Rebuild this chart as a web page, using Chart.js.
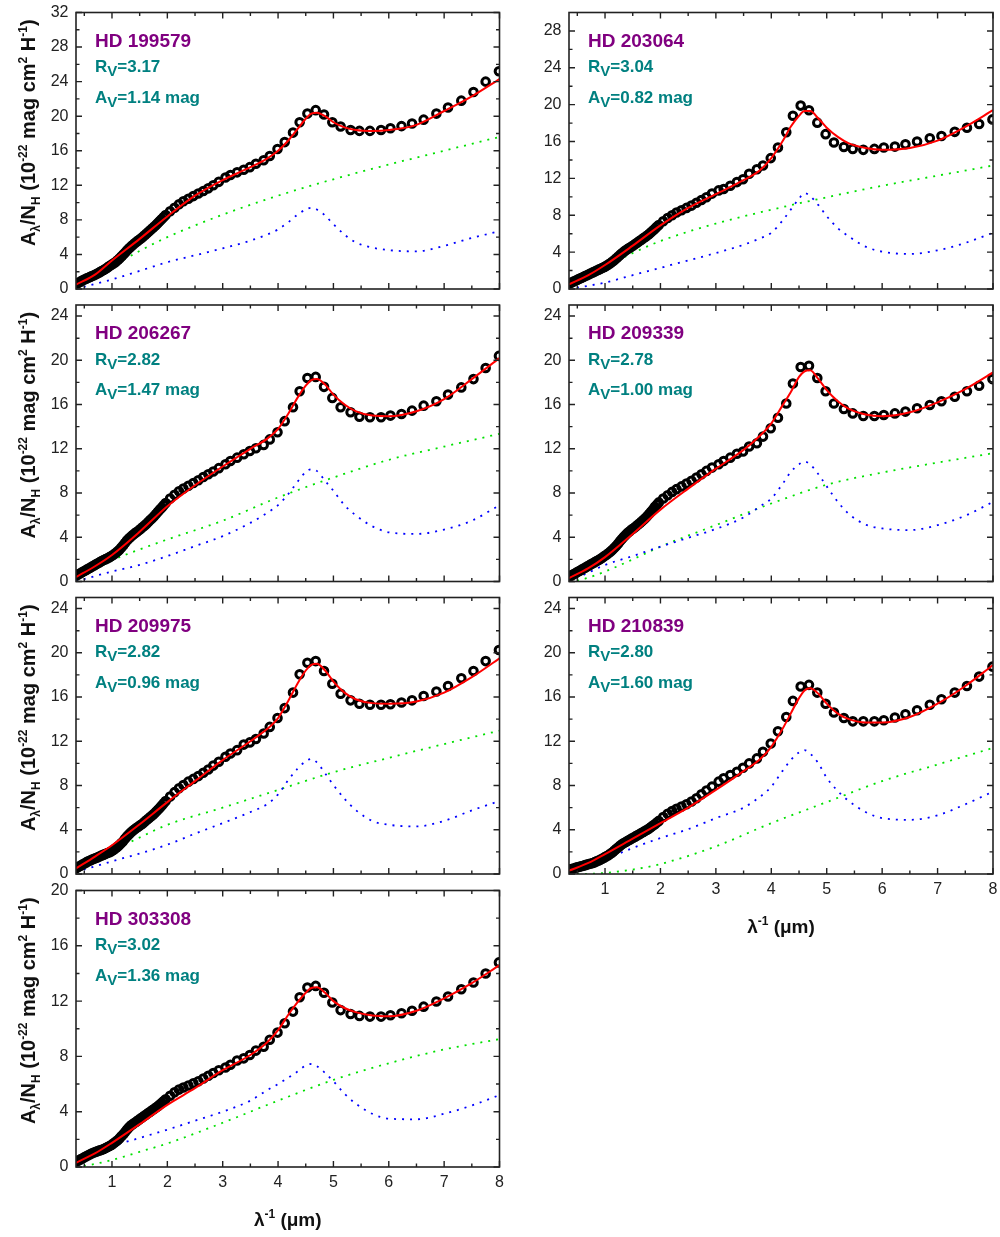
<!DOCTYPE html>
<html>
<head>
<meta charset="utf-8">
<script src="https://cdn.jsdelivr.net/npm/chart.js@4.4.0/dist/chart.umd.min.js"></script>
<style>
  body { margin: 0; background: #fff; }
  #wrap { position: relative; width: 1000px; height: 1237px; }
  #wrap canvas { position: absolute; left: 0; top: 0; }
</style>
</head>
<body>
<div id="wrap"></div>
<script>
// sampling of the observed curves (1/micron)
const obsX = [0.36,0.395,0.43,0.465,0.50,0.535,0.57,0.605,0.64,0.675,0.71,0.745,0.78,0.815,0.85,0.885,0.92,0.955,0.99,1.025,
  1.06,1.095,1.13,1.165,1.20,1.235,1.27,1.305,1.34,1.375,1.41,1.445,1.48,1.515,1.55,1.585,1.62,1.655,1.69,1.725,
  1.76,1.795,1.83,1.865,1.90,1.935,1.97,
  2.05,2.13,2.21,2.29,2.38,2.47,2.56,2.65,2.74,2.83,
  2.93,3.05,3.14,3.26,3.38,3.49,3.60,3.74,3.85,3.99,4.12,4.27,4.39,
  4.53,4.68,4.83,4.98,5.13,5.31,5.47,5.66,5.86,6.03,6.23,6.42,6.63,6.86,7.07,7.31,7.53,7.75,7.99];
// sampling of the model curves
const modelX = [0.35,0.7,1.0,1.5,2.0,2.5,3.0,3.5,3.8,4.0,4.2,4.35,4.5,4.6,4.7,4.85,5.0,5.2,5.4,5.7,6.0,6.5,7.0,7.5,8.0];
const greenX = [0.35,0.6,1.0,1.5,2,3,4,5,6,7,8];

// HD 199579
const obs1 = [0.6,0.72,0.85,0.98,1.1,1.2,1.3,1.4,1.5,1.6,1.7,1.82,1.95,2.07,2.2,2.35,2.5,2.65,2.8,2.95,
  3.1,3.3,3.5,3.72,3.95,4.2,4.45,4.68,4.9,5.1,5.3,5.48,5.65,5.82,6.0,6.2,6.4,6.6,6.8,7.0,
  7.2,7.42,7.65,7.88,8.1,8.32,8.55,
  9.0,9.4,9.8,10.15,10.45,10.75,11.05,11.35,11.65,12.0,
  12.4,12.9,13.2,13.5,13.8,14.1,14.5,14.9,15.4,16.2,17.0,18.1,19.3,
  20.3,20.7,20.2,19.3,18.8,18.4,18.3,18.3,18.4,18.6,18.85,19.15,19.6,20.3,21.0,21.8,22.8,24.0,25.2];
const fit1 = [0.5,1.7,3.3,5.8,8.4,10.8,12.6,14.1,15.1,16.0,17.3,18.5,19.7,20.3,20.4,20.0,19.3,18.7,18.4,18.3,18.4,19.0,20.6,22.3,24.3];
const blue1 = [0.0,0.6,1.1,2.1,3.1,3.9,4.7,5.6,6.3,6.9,7.8,8.6,9.2,9.4,9.2,8.5,7.5,6.3,5.4,4.8,4.5,4.35,5.0,5.9,6.7];
const green1 = [0.0,1.1,2.6,4.4,6.0,8.6,10.8,12.7,14.4,16.0,17.6];

// HD 203064
const obs2 = [0.6,0.7,0.8,0.9,1.0,1.1,1.2,1.3,1.4,1.5,1.6,1.7,1.8,1.9,2.0,2.1,2.2,2.3,2.4,2.52,
  2.65,2.8,2.95,3.12,3.3,3.5,3.7,3.88,4.05,4.2,4.35,4.48,4.6,4.75,4.9,5.05,5.2,5.35,5.5,5.65,
  5.8,5.97,6.15,6.35,6.55,6.75,6.95,
  7.35,7.7,8.0,8.3,8.55,8.8,9.05,9.35,9.65,9.95,
  10.35,10.7,10.85,11.2,11.6,11.9,12.5,13.0,13.4,14.2,15.35,17.0,18.8,
  19.9,19.4,18.05,16.8,15.9,15.4,15.2,15.1,15.2,15.35,15.45,15.7,16.0,16.35,16.6,17.05,17.5,17.9,18.4];
const fit2 = [0.5,1.5,2.6,4.7,6.9,8.8,10.3,11.8,12.9,14.2,16.0,17.6,18.8,19.3,19.3,18.5,17.5,16.5,15.8,15.3,15.1,15.3,16.1,17.6,19.4];
const blue2 = [0.0,0.35,0.7,1.5,2.3,3.1,3.9,4.8,5.5,6.1,7.4,8.6,9.8,10.4,10.1,9.1,7.9,6.6,5.7,4.6,4.05,3.8,4.2,5.0,6.1];
const green2 = [0.0,1.0,2.4,3.9,5.2,7.1,8.6,9.95,11.2,12.3,13.4];

// HD 206267
const obs3 = [0.55,0.65,0.75,0.85,0.95,1.05,1.15,1.25,1.35,1.45,1.55,1.65,1.75,1.85,1.95,2.02,2.1,2.2,2.3,2.42,
  2.55,2.7,2.85,3.05,3.25,3.48,3.7,3.88,4.05,4.2,4.35,4.48,4.6,4.75,4.9,5.05,5.2,5.38,5.55,5.72,
  5.9,6.1,6.3,6.5,6.7,6.9,7.1,
  7.5,7.85,8.15,8.4,8.65,8.9,9.15,9.45,9.7,9.95,
  10.25,10.6,10.9,11.2,11.5,11.8,12.05,12.35,12.85,13.5,14.5,15.75,17.2,
  18.4,18.5,17.6,16.6,15.75,15.3,14.9,14.85,14.85,15.0,15.15,15.45,15.9,16.3,16.9,17.55,18.3,19.3,20.4];
const fit3 = [0.4,1.4,2.4,4.5,6.8,8.7,10.4,12.0,12.9,13.8,15.3,16.6,17.7,18.2,18.3,17.8,16.9,16.0,15.4,15.0,14.95,15.4,16.5,18.3,20.2];
const blue3 = [0.0,0.5,0.9,1.5,2.3,3.2,4.1,5.3,6.2,6.9,8.0,9.0,9.9,10.15,10.0,9.1,8.2,6.9,6.0,5.0,4.45,4.3,4.7,5.5,6.9];
const green3 = [0.1,0.8,1.9,2.9,3.8,5.5,7.6,9.4,11.0,12.2,13.35];

// HD 209339
const obs4 = [0.45,0.55,0.65,0.75,0.85,0.95,1.05,1.15,1.25,1.35,1.45,1.55,1.65,1.75,1.85,1.95,2.05,2.17,2.3,2.42,
  2.55,2.7,2.85,3.02,3.2,3.42,3.65,3.85,4.05,4.22,4.4,4.55,4.7,4.82,4.95,5.1,5.25,5.4,5.55,5.72,
  5.9,6.1,6.3,6.52,6.75,6.95,7.15,
  7.5,7.8,8.1,8.35,8.6,8.85,9.1,9.4,9.7,10.0,
  10.3,10.6,10.9,11.2,11.55,11.75,12.2,12.5,13.1,13.85,14.8,16.1,17.9,
  19.4,19.5,18.4,17.2,16.1,15.6,15.2,14.97,14.97,15.06,15.2,15.36,15.66,15.96,16.3,16.7,17.2,17.7,18.3];
const fit4 = [0.3,1.2,2.2,4.3,6.5,8.4,10.2,11.9,13.2,14.3,15.9,17.1,18.5,19.0,19.1,18.3,17.3,16.3,15.6,15.1,14.95,15.3,16.2,17.4,18.9];
const blue4 = [0.0,0.8,1.5,2.3,3.15,3.95,4.75,5.8,6.8,7.5,8.8,9.9,10.6,10.85,10.6,9.7,8.6,7.2,6.1,5.15,4.8,4.65,5.1,5.95,7.2];
const green4 = [0.0,0.2,0.9,2.0,3.15,5.1,7.05,8.75,9.85,10.75,11.6];

// HD 209975
const obs5 = [0.55,0.65,0.75,0.85,0.95,1.05,1.15,1.22,1.3,1.38,1.45,1.52,1.6,1.68,1.75,1.82,1.9,1.97,2.05,2.17,
  2.3,2.45,2.6,2.77,2.95,3.18,3.4,3.58,3.75,3.9,4.05,4.18,4.3,4.42,4.55,4.7,4.85,5.0,5.15,5.3,
  5.45,5.62,5.8,6.0,6.2,6.4,6.6,
  7.0,7.4,7.75,8.05,8.35,8.6,8.85,9.15,9.45,9.8,
  10.15,10.6,10.9,11.2,11.7,11.9,12.2,12.7,13.3,14.1,15.0,16.4,18.05,
  19.1,19.25,18.35,17.2,16.3,15.7,15.4,15.3,15.3,15.35,15.5,15.7,16.1,16.5,17.0,17.7,18.35,19.25,20.25];
const fit5 = [0.5,1.6,2.6,4.5,6.5,8.4,10.3,12.0,13.1,14.1,15.8,17.2,18.4,18.9,19.0,18.4,17.4,16.4,15.8,15.45,15.4,15.6,16.4,17.8,19.5];
const blue5 = [0.2,0.7,1.15,1.85,2.65,3.65,4.6,5.6,6.3,7.2,8.6,9.5,10.2,10.4,10.1,9.1,8.05,6.8,5.8,4.8,4.45,4.3,4.8,5.75,6.6];
const green5 = [0.1,1.0,2.05,3.3,4.45,6.0,7.6,9.2,10.5,11.75,12.96];

// HD 210839
const obs6 = [0.4,0.45,0.5,0.55,0.6,0.65,0.7,0.75,0.8,0.85,0.9,0.95,1.0,1.07,1.15,1.22,1.3,1.4,1.5,1.6,
  1.7,1.82,1.95,2.1,2.25,2.4,2.55,2.68,2.8,2.9,3.0,3.1,3.2,3.3,3.4,3.5,3.6,3.7,3.8,3.9,
  4.0,4.12,4.25,4.38,4.5,4.65,4.8,
  5.15,5.45,5.7,5.9,6.1,6.3,6.55,6.85,7.2,7.55,
  7.9,8.35,8.65,8.95,9.25,9.6,10.0,10.45,11.05,11.8,12.9,14.2,15.65,
  16.95,17.1,16.4,15.4,14.6,14.1,13.8,13.8,13.8,13.9,14.15,14.45,14.8,15.3,15.8,16.4,17.0,17.85,18.75];
const fit6 = [0.3,1.0,1.8,3.2,4.6,6.0,7.6,9.3,10.4,11.5,13.1,14.5,15.9,16.6,16.8,16.3,15.4,14.5,14.0,13.7,13.7,14.2,15.4,17.0,18.9];
const blue6 = [0.0,0.6,1.3,2.35,3.25,4.05,5.05,6.0,7.0,7.9,9.3,10.3,11.0,11.2,10.9,10.0,8.7,7.5,6.6,5.6,5.05,4.9,5.3,6.3,7.45];
const green6 = [0.0,0.0,0.1,0.4,0.9,2.5,4.6,6.5,8.4,9.9,11.4];

// HD 303308
const obs7 = [0.4,0.47,0.55,0.62,0.7,0.77,0.85,0.92,1.0,1.05,1.1,1.15,1.2,1.25,1.3,1.37,1.45,1.52,1.6,1.7,
  1.8,1.92,2.05,2.2,2.35,2.52,2.7,2.85,3.0,3.1,3.2,3.3,3.4,3.5,3.6,3.7,3.8,3.9,4.0,4.1,
  4.2,4.3,4.4,4.52,4.65,4.77,4.9,
  5.15,5.4,5.6,5.75,5.9,6.05,6.2,6.4,6.6,6.8,
  7.0,7.2,7.4,7.7,7.86,8.1,8.42,8.7,9.2,9.72,10.4,11.24,12.28,
  12.98,13.1,12.6,11.9,11.35,11.07,10.93,10.88,10.88,10.98,11.12,11.3,11.6,11.97,12.33,12.86,13.34,14.0,14.8];
const fit7 = [0.3,1.0,1.75,3.1,4.5,5.7,7.0,8.1,9.0,9.9,11.1,11.9,12.6,12.95,13.0,12.6,12.0,11.5,11.2,10.95,10.9,11.3,12.2,13.3,14.6];
const blue7 = [0.15,1.0,1.5,2.1,2.7,3.35,4.0,4.8,5.55,6.0,6.5,6.9,7.35,7.45,7.3,6.8,6.2,5.3,4.6,3.85,3.5,3.45,3.85,4.45,5.2];
const green7 = [0.0,0.15,0.5,1.1,1.7,3.2,4.8,6.3,7.5,8.5,9.25];

const starNames = ['HD 199579','HD 203064','HD 206267','HD 209339','HD 209975','HD 210839','HD 303308'];
const rvValues = ['3.17','3.04','2.82','2.78','2.82','2.80','3.02'];
const avValues = ['1.14','0.82','1.47','1.00','0.96','1.60','1.36'];

const xTicks = [1,2,3,4,5,6,7,8];
const xMinorTicks = [0.5,1.5,2.5,3.5,4.5,5.5,6.5,7.5];
const yTicks32 = [0,4,8,12,16,20,24,28,32];
const yTicks28 = [0,4,8,12,16,20,24,28];
const yTicks24 = [0,4,8,12,16,20,24];
const yTicks20 = [0,4,8,12,16,20];

// panel grid
const W = 1000, H = 1237;
const colLeft = [76, 569], colRight = [499.5, 993];
const rowTop = [12.5, 305, 597.5, 890.5];
const plotH = 276.5;
const FONT = 'Arial, "Liberation Sans", sans-serif';
const PURPLE = '#800080', TEAL = '#008080';

const panels = [
  { obs: obs1, fit: fit1, blue: blue1, green: green1, col: 0, row: 0, yMax: 32, yTicks: yTicks32 },
  { obs: obs2, fit: fit2, blue: blue2, green: green2, col: 1, row: 0, yMax: 30, yTicks: yTicks28 },
  { obs: obs3, fit: fit3, blue: blue3, green: green3, col: 0, row: 1, yMax: 25, yTicks: yTicks24 },
  { obs: obs4, fit: fit4, blue: blue4, green: green4, col: 1, row: 1, yMax: 25, yTicks: yTicks24 },
  { obs: obs5, fit: fit5, blue: blue5, green: green5, col: 0, row: 2, yMax: 25, yTicks: yTicks24 },
  { obs: obs6, fit: fit6, blue: blue6, green: green6, col: 1, row: 2, yMax: 25, yTicks: yTicks24, bottom: true },
  { obs: obs7, fit: fit7, blue: blue7, green: green7, col: 0, row: 3, yMax: 20, yTicks: yTicks20, bottom: true }
];

const pts = (xs, ys) => xs.map((x, i) => ({ x: x, y: ys[i] }));

// text with sub/superscripts: parts = [text, size, dy]
function rich(ctx, parts, x, y, align, color) {
  ctx.fillStyle = color;
  ctx.textAlign = 'left';
  ctx.textBaseline = 'alphabetic';
  let w = 0;
  parts.forEach(p => { ctx.font = 'bold ' + p[1] + 'px ' + FONT; w += ctx.measureText(p[0]).width; });
  let cx = align === 'center' ? x - w / 2 : x;
  parts.forEach(p => {
    ctx.font = 'bold ' + p[1] + 'px ' + FONT;
    ctx.fillText(p[0], cx, y + p[2]);
    cx += ctx.measureText(p[0]).width;
  });
}

const decor = {
  id: 'decor',
  afterDraw(chart, args, o) {
    const ctx = chart.ctx, a = chart.chartArea;
    const xs = chart.scales.x, ys = chart.scales.y;
    ctx.save();
    ctx.strokeStyle = '#222';
    ctx.lineWidth = 1.4;
    ctx.beginPath();
    const tx = (v, len) => {
      const p = xs.getPixelForValue(v);
      ctx.moveTo(p, a.bottom); ctx.lineTo(p, a.bottom - len);
      ctx.moveTo(p, a.top); ctx.lineTo(p, a.top + len);
    };
    const ty = (v, len) => {
      const p = ys.getPixelForValue(v);
      ctx.moveTo(a.left, p); ctx.lineTo(a.left + len, p);
      ctx.moveTo(a.right, p); ctx.lineTo(a.right - len, p);
    };
    xTicks.forEach(v => tx(v, 6));
    xMinorTicks.forEach(v => tx(v, 3.5));
    o.yTicks.forEach(v => ty(v, 6));
    for (let v = 2; v < o.yMax; v += 4) ty(v, 3.5);
    ctx.stroke();
    ctx.lineWidth = 1.6;
    ctx.strokeRect(a.left, a.top, a.right - a.left, a.bottom - a.top);

    // tick labels
    ctx.fillStyle = '#222';
    ctx.font = '16px ' + FONT;
    ctx.textAlign = 'right';
    ctx.textBaseline = 'middle';
    o.yTicks.forEach(v => ctx.fillText(String(v), a.left - 7.5, ys.getPixelForValue(v)));
    if (o.bottom) {
      ctx.textAlign = 'center';
      xTicks.forEach(v => ctx.fillText(String(v), xs.getPixelForValue(v), a.bottom + 16));
      rich(ctx, [['λ', 19, 0], ['-1', 12, -8], [' (μm)', 19, 0]], (a.left + a.right) / 2, a.bottom + 59, 'center', '#111');
    }
    if (o.col === 0) {
      ctx.save();
      ctx.translate(a.left - 41, (a.top + a.bottom) / 2 - 18);
      ctx.rotate(-Math.PI / 2);
      rich(ctx, [['A', 20, 0], ['λ', 12, 5], ['/N', 20, 0], ['H', 12, 5], [' (10', 20, 0], ['-22', 12, -8],
        [' mag cm', 20, 0], ['2', 12, -8], [' H', 20, 0], ['-1', 12, -8], [')', 20, 0]], 0, 0, 'center', '#111');
      ctx.restore();
    }

    // star annotations
    const lx = a.left + 19;
    rich(ctx, [[o.name, 19, 0]], lx, a.top + 34, 'left', PURPLE);
    rich(ctx, [['R', 17, 0], ['V', 15, 4], ['=' + o.rv, 17, 0]], lx, a.top + 59.5, 'left', TEAL);
    rich(ctx, [['A', 17, 0], ['V', 15, 4], ['=' + o.av + ' mag', 17, 0]], lx, a.top + 90, 'left', TEAL);
    ctx.restore();
  }
};

const wrap = document.getElementById('wrap');

panels.forEach((p, i) => {
  const canvas = document.createElement('canvas');
  canvas.width = W;
  canvas.height = H;
  wrap.appendChild(canvas);
  const top = rowTop[p.row];
  new Chart(canvas, {
    type: 'line',
    data: {
      datasets: [
        { data: pts(modelX, p.fit), borderColor: '#ff0000', borderWidth: 2, pointRadius: 0,
          cubicInterpolationMode: 'monotone', order: 0, clip: 0 },
        { data: pts(obsX, p.obs), showLine: false, pointStyle: 'circle', pointRadius: 3.8, borderWidth: 3,
          borderColor: '#000', pointBorderColor: '#000', pointBackgroundColor: 'rgba(0,0,0,0)', order: 1, clip: 0 },
        { data: pts(modelX, p.blue), borderColor: '#0000ff', borderWidth: 1.8, borderDash: [2, 6], borderCapStyle: 'butt',
          pointRadius: 0, cubicInterpolationMode: 'monotone', order: 2, clip: 0 },
        { data: pts(greenX, p.green), borderColor: '#00e000', borderWidth: 1.8, borderDash: [2, 6], borderCapStyle: 'butt',
          pointRadius: 0, cubicInterpolationMode: 'monotone', order: 3, clip: 0 }
      ]
    },
    options: {
      responsive: false,
      devicePixelRatio: 1,
      animation: false,
      events: [],
      layout: { padding: { left: colLeft[p.col], right: W - colRight[p.col], top: top, bottom: H - (top + plotH) } },
      plugins: {
        legend: { display: false },
        tooltip: { enabled: false },
        decor: { yTicks: p.yTicks, yMax: p.yMax, col: p.col, bottom: !!p.bottom,
                 name: starNames[i], rv: rvValues[i], av: avValues[i] }
      },
      scales: {
        x: { type: 'linear', min: 0.35, max: 8, display: false },
        y: { type: 'linear', min: 0, max: p.yMax, display: false }
      }
    },
    plugins: [decor]
  });
});
</script>
</body>
</html>
